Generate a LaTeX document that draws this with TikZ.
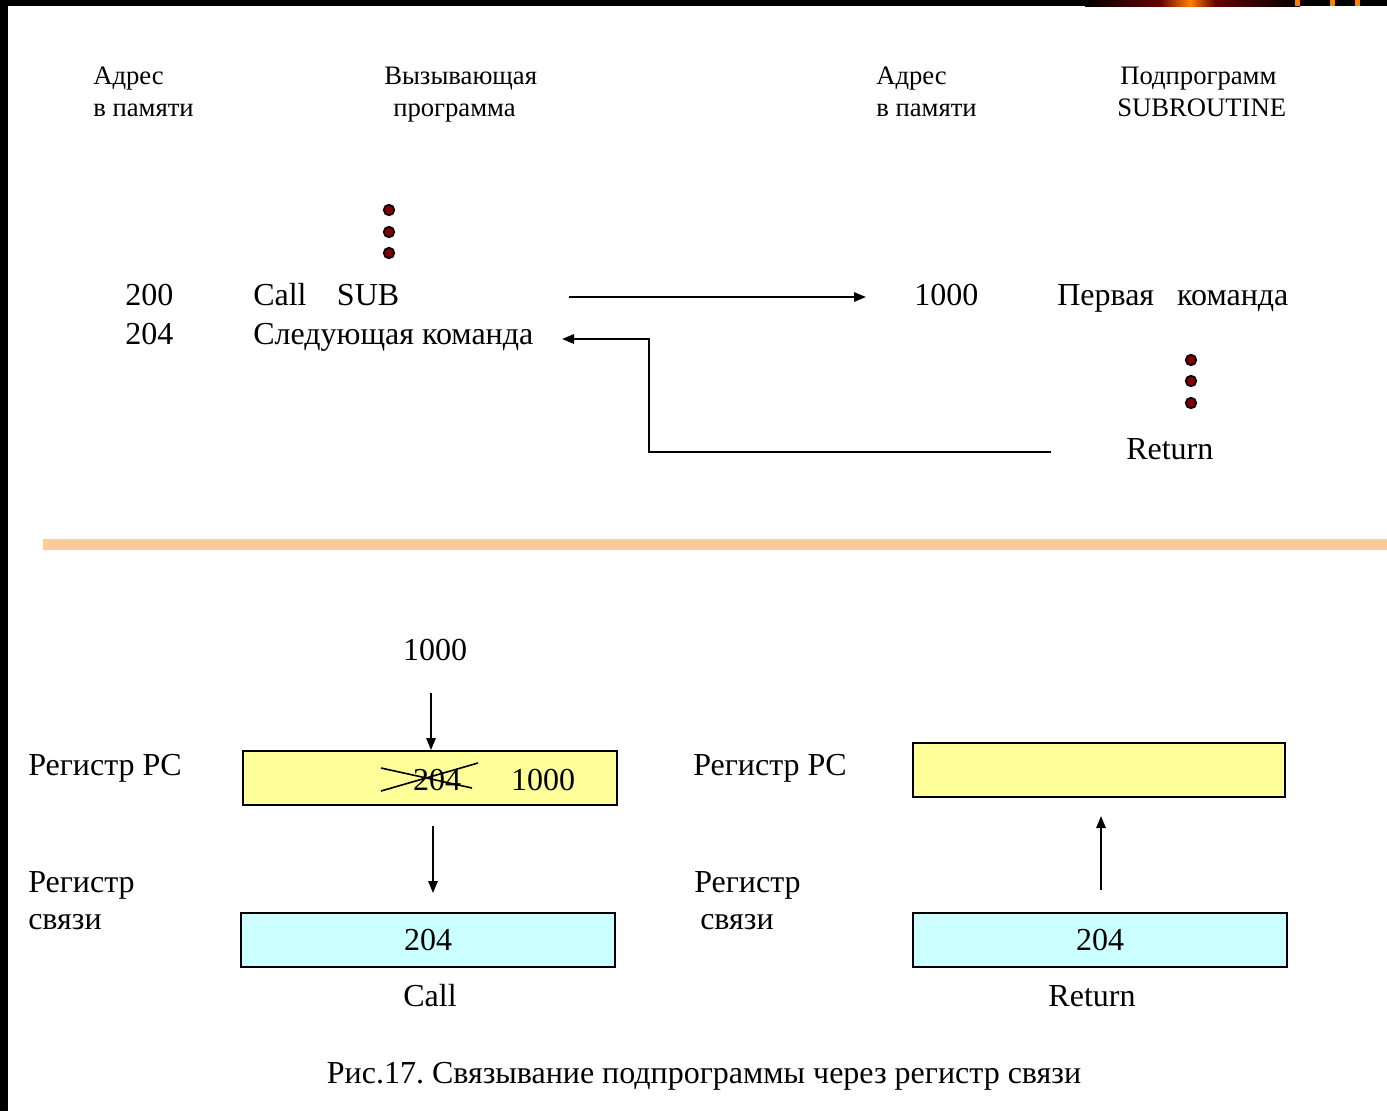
\documentclass[tikz,border=0pt]{standalone}
\usepackage{fontspec}
\setmainfont{Liberation Serif}
\usetikzlibrary{arrows.meta}
\definecolor{dotred}{HTML}{800000}
\definecolor{barorange}{HTML}{FFCC99}
\definecolor{pcyellow}{HTML}{FFFF99}
\definecolor{lrcyan}{HTML}{CCFFFF}
\frenchspacing
\begin{document}
\begin{tikzpicture}[x=0.75pt,y=-0.75pt,
  bigtext/.style={inner sep=0pt,font=\fontsize{24}{27.75}\selectfont},
  smalltext/.style={inner sep=0pt,font=\fontsize{20}{24}\selectfont},
  dotmark/.style={circle,draw=black,line width=1.2pt,fill=dotred,minimum size=8pt,inner sep=0pt},
  flow/.style={line width=1.5pt,-{Triangle[length=9pt,width=7pt]}},
  regbox/.style={draw=black,line width=1.5pt,minimum height=40.5pt,inner sep=0pt,
    font=\fontsize{24}{27.75}\selectfont}]
\useasboundingbox (0,0) rectangle (1387,1111);
\fill[white] (0,0) rectangle (1387,1111);
% frame
\fill[black] (0,0) rectangle (8,1111);
\fill[black] (0,0) rectangle (1387,6);
\shade[left color=black,right color=dotred!80!black] (1085,0) rectangle (1160,6);
\shade[left color=dotred!80!black,right color=orange] (1160,0) rectangle (1190,6);
\shade[left color=orange,right color=dotred!80!black] (1190,0) rectangle (1215,6);
\shade[left color=dotred!80!black,right color=black] (1215,0) rectangle (1300,6);
\fill[orange] (1295,0) rectangle (1300,6);
\fill[orange] (1330,0) rectangle (1335,6);
\fill[orange] (1355,0) rectangle (1360,6);

% headings (anchored on the baseline)
\node[smalltext,anchor=base west] (addrL1) at (93,84) {Адрес};
\node[smalltext,anchor=base west] (addrL2) at (93,116) {в памяти};
\node[smalltext,anchor=base west] (caller1) at (384,84) {Вызывающая};
\node[smalltext,anchor=base west] (caller2) at (393,116) {программа};
\node[smalltext,anchor=base west] (addrR1) at (876,84) {Адрес};
\node[smalltext,anchor=base west] (addrR2) at (876,116) {в памяти};
\node[smalltext,anchor=base west] (subr1) at (1120,84) {Подпрограмм};
\node[smalltext,anchor=base west] (subr2) at (1117,116) {SUBROUTINE};

% caller program
\node[dotmark] (d1) at (389,210) {};
\node[dotmark] (d2) at (389,232) {};
\node[dotmark] (d3) at (389,253) {};
\node[bigtext,anchor=base west] (a200) at (125,305.5) {200};
\node[bigtext,anchor=base west] (a204) at (125,344.5) {204};
\node[bigtext,anchor=base west] (call) at (253,305.5) {Call\hspace{0.95em}SUB};
\node[bigtext,anchor=base west] (next) at (253,344.5) {Следующая команда};

% subroutine
\node[bigtext,anchor=base west] (a1000) at (914,305.5) {1000};
\node[bigtext,anchor=base west] (first) at (1057,305.5) {Первая\hspace{0.72em}команда};
\node[dotmark] (e1) at (1191,360) {};
\node[dotmark] (e2) at (1191,381) {};
\node[dotmark] (e3) at (1191,403) {};
\node[bigtext,anchor=base west] (ret) at (1126,459.5) {Return};

% control transfer
\coordinate (callA) at (569,297);
\coordinate (callB) at (866,297);
\draw[flow] (callA) -- (callB);
\coordinate (retA) at (1051,452);
\coordinate (retB) at (649,452);
\coordinate (retC) at (649,339);
\coordinate (retD) at (562,339);
\draw[flow] (retA) -- (retB) -- (retC) -- (retD);

% separator
\fill[barorange] (43,539) rectangle (1387,550);

% call: PC and link register
\node[bigtext,anchor=base] (newaddr) at (435,660.5) {1000};
\node[bigtext,anchor=base west] (pcL) at (28,775.5) {Регистр PC};
\node[regbox,fill=pcyellow,minimum width=280.5pt] (pc1) at (430,778) {};
\node[bigtext,anchor=base] (old) at (437,790.5) {204};
\node[bigtext,anchor=base] (new) at (543,790.5) {1000};
\draw[line width=1.2pt] (381,768) -- (472,788);
\draw[line width=1.2pt] (381,791) -- (478,763);
\draw[flow] (431,693) -- (pc1.north -| 431,0);
\node[bigtext,anchor=base west] (lrL1) at (28,892.5) {Регистр};
\node[bigtext,anchor=base west] (lrL2) at (28,929.5) {связи};
\node[regbox,fill=lrcyan,minimum width=280.5pt] (lr1) at (428,940) {};
\node[bigtext,anchor=base] (lr1val) at (428,950.5) {204};
\draw[flow] (pc1.south -| 433,0) ++(0,20) -- ++(0,67);
\node[bigtext,anchor=base] (callcap) at (430,1006.5) {Call};

% return: link register back to PC
\node[bigtext,anchor=base west] (pcR) at (693,775.5) {Регистр PC};
\node[regbox,fill=pcyellow,minimum width=279pt] (pc2) at (1099,769.5) {};
\node[bigtext,anchor=base west] (lrR1) at (694,892.5) {Регистр};
\node[bigtext,anchor=base west] (lrR2) at (700,929.5) {связи};
\node[regbox,fill=lrcyan,minimum width=280.5pt] (lr2) at (1100,940) {};
\node[bigtext,anchor=base] (lr2val) at (1100,950.5) {204};
\draw[flow] (lr2.north -| 1101,0) ++(0,-22) -- ++(0,-74);
\node[bigtext,anchor=base] (retcap) at (1092,1006.5) {Return};

% caption
\node[bigtext,anchor=base] (caption) at (704,1083.5) {Рис.17. Связывание подпрограммы через регистр связи};
\end{tikzpicture}
\end{document}
